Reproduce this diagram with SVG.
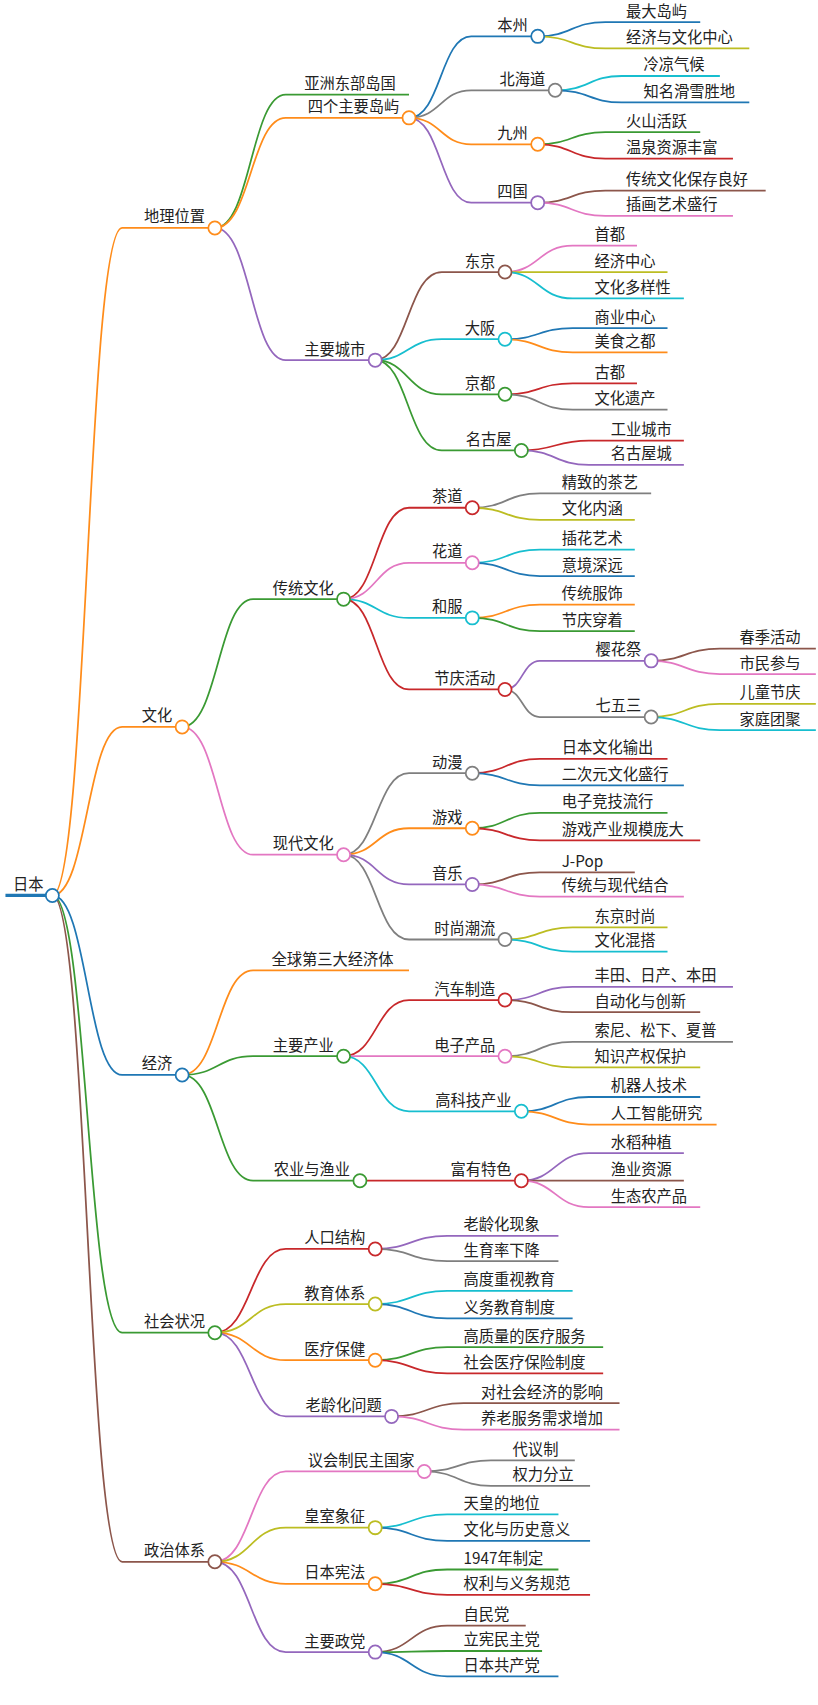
<svg xmlns="http://www.w3.org/2000/svg" width="818" height="1705" viewBox="0 0 818 1705">
<style>
path{fill:none;stroke-width:1.6}
circle{fill:#fff;stroke-width:1.6}
text{font-family:"Noto Sans CJK SC","Noto Sans",sans-serif;font-size:14px;fill:#222}
.e{text-anchor:end}
.o{stroke:#ff8c1a}.g{stroke:#3a9a33}.p{stroke:#9467bd}.b{stroke:#1f77b4}.y{stroke:#7f7f7f}.l{stroke:#bcbd22}.c{stroke:#17becf}.r{stroke:#c8282b}.n{stroke:#8c564b}.k{stroke:#e377c2}
</style>
<rect width="818" height="1705" fill="#fff"/>
<g transform="scale(1.0907,1.1014)">
<g id="connectors">
<path class="b" style="stroke-width:3" d="M5 813H44"/>
<path class="o" d="M48 813C80 813 80 207 112 207H191"/>
<path class="o" d="M48 813C80 813 80 660 112 660H161"/>
<path class="b" d="M48 813C80 813 80 976 112 976H161"/>
<path class="g" d="M48 813C80 813 80 1210 112 1210H191"/>
<path class="n" d="M48 813C80 813 80 1418 112 1418H191"/>
<path class="g" d="M197 207C230 207 230 86 262 86H375"/>
<path class="o" d="M197 207C230 207 230 107 262 107H369"/>
<path class="p" d="M197 207C230 207 230 327 262 327H338"/>
<path class="b" d="M375 107C404 107 404 33 432 33H487"/>
<path class="y" d="M375 107C404 107 404 82 432 82H503"/>
<path class="o" d="M375 107C404 107 404 131 432 131H487"/>
<path class="p" d="M375 107C404 107 404 184 432 184H487"/>
<path class="b" d="M493 33C524 33 524 20 555 20H642"/>
<path class="l" d="M493 33C524 33 524 44 555 44H687"/>
<path class="c" d="M509 82C540 82 540 69 570 69H660"/>
<path class="b" d="M509 82C540 82 540 93 570 93H687"/>
<path class="g" d="M493 131C524 131 524 120 555 120H642"/>
<path class="r" d="M493 131C524 131 524 144 555 144H672"/>
<path class="n" d="M493 184C524 184 524 173 555 173H702"/>
<path class="k" d="M493 184C524 184 524 196 555 196H672"/>
<path class="n" d="M344 327C374 327 374 247 405 247H457"/>
<path class="c" d="M344 327C374 327 374 308 405 308H457"/>
<path class="g" d="M344 327C374 327 374 358 405 358H457"/>
<path class="g" d="M344 327C374 327 374 409 405 409H472"/>
<path class="k" d="M463 247C494 247 494 223 525 223H584"/>
<path class="l" d="M463 247C494 247 494 247 525 247H612"/>
<path class="c" d="M463 247C494 247 494 271 525 271H627"/>
<path class="b" d="M463 308C494 308 494 298 525 298H612"/>
<path class="o" d="M463 308C494 308 494 320 525 320H612"/>
<path class="r" d="M463 358C494 358 494 348 525 348H584"/>
<path class="y" d="M463 358C494 358 494 372 525 372H612"/>
<path class="r" d="M478 409C509 409 509 400 540 400H627"/>
<path class="p" d="M478 409C509 409 509 422 540 422H627"/>
<path class="g" d="M167 660C200 660 200 544 232 544H309"/>
<path class="k" d="M167 660C200 660 200 776 232 776H309"/>
<path class="r" d="M315 544C345 544 345 461 375 461H427"/>
<path class="k" d="M315 544C345 544 345 511 375 511H427"/>
<path class="c" d="M315 544C345 544 345 561 375 561H427"/>
<path class="r" d="M315 544C345 544 345 626 375 626H457"/>
<path class="y" d="M433 461C464 461 464 448 495 448H597"/>
<path class="l" d="M433 461C464 461 464 472 495 472H582"/>
<path class="c" d="M433 511C464 511 464 499 495 499H582"/>
<path class="b" d="M433 511C464 511 464 523 495 523H582"/>
<path class="o" d="M433 561C464 561 464 549 495 549H582"/>
<path class="g" d="M433 561C464 561 464 573 495 573H582"/>
<path class="p" d="M463 626C479 626 479 600 495 600H591"/>
<path class="y" d="M463 626C479 626 479 651 495 651H591"/>
<path class="n" d="M597 600C628 600 628 589 660 589H748"/>
<path class="k" d="M597 600C628 600 628 612 660 612H748"/>
<path class="l" d="M597 651C628 651 628 639 660 639H748"/>
<path class="c" d="M597 651C628 651 628 663 660 663H748"/>
<path class="y" d="M315 776C345 776 345 702 375 702H427"/>
<path class="o" d="M315 776C345 776 345 752 375 752H427"/>
<path class="p" d="M315 776C345 776 345 803 375 803H427"/>
<path class="y" d="M315 776C345 776 345 853 375 853H457"/>
<path class="r" d="M433 702C464 702 464 689 495 689H612"/>
<path class="b" d="M433 702C464 702 464 713 495 713H627"/>
<path class="g" d="M433 752C464 752 464 738 495 738H612"/>
<path class="r" d="M433 752C464 752 464 763 495 763H642"/>
<path class="n" d="M433 803C464 803 464 792 495 792H582"/>
<path class="k" d="M433 803C464 803 464 814 495 814H627"/>
<path class="l" d="M463 853C494 853 494 842 525 842H612"/>
<path class="c" d="M463 853C494 853 494 864 525 864H612"/>
<path class="o" d="M167 976C200 976 200 881 232 881H375"/>
<path class="g" d="M167 976C200 976 200 959 232 959H309"/>
<path class="g" d="M167 976C200 976 200 1072 232 1072H324"/>
<path class="r" d="M315 959C345 959 345 908 375 908H457"/>
<path class="k" d="M315 959C345 959 345 959 375 959H457"/>
<path class="c" d="M315 959C345 959 345 1009 375 1009H472"/>
<path class="r" d="M330 1072H472"/>
<path class="p" d="M463 908C494 908 494 896 525 896H672"/>
<path class="n" d="M463 908C494 908 494 919 525 919H642"/>
<path class="y" d="M463 959C494 959 494 946 525 946H672"/>
<path class="l" d="M463 959C494 959 494 969 525 969H642"/>
<path class="b" d="M478 1009C509 1009 509 996 540 996H642"/>
<path class="o" d="M478 1009C509 1009 509 1021 540 1021H657"/>
<path class="p" d="M478 1072C509 1072 509 1047 540 1047H627"/>
<path class="n" d="M478 1072C509 1072 509 1072 540 1072H627"/>
<path class="k" d="M478 1072C509 1072 509 1096 540 1096H642"/>
<path class="r" d="M197 1210C230 1210 230 1134 262 1134H338"/>
<path class="l" d="M197 1210C230 1210 230 1184 262 1184H338"/>
<path class="o" d="M197 1210C230 1210 230 1235 262 1235H338"/>
<path class="p" d="M197 1210C230 1210 230 1286 262 1286H353"/>
<path class="p" d="M344 1134C377 1134 377 1122 410 1122H512"/>
<path class="y" d="M344 1134C377 1134 377 1145 410 1145H512"/>
<path class="c" d="M344 1184C377 1184 377 1172 410 1172H525"/>
<path class="b" d="M344 1184C377 1184 377 1197 410 1197H525"/>
<path class="g" d="M344 1235C377 1235 377 1223 410 1223H553"/>
<path class="r" d="M344 1235C377 1235 377 1247 410 1247H553"/>
<path class="n" d="M359 1286C392 1286 392 1274 425 1274H568"/>
<path class="k" d="M359 1286C392 1286 392 1298 425 1298H568"/>
<path class="k" d="M197 1418C230 1418 230 1336 262 1336H383"/>
<path class="l" d="M197 1418C230 1418 230 1387 262 1387H338"/>
<path class="o" d="M197 1418C230 1418 230 1438 262 1438H338"/>
<path class="p" d="M197 1418C230 1418 230 1500 262 1500H338"/>
<path class="y" d="M389 1336C420 1336 420 1326 450 1326H527"/>
<path class="y" d="M389 1336C420 1336 420 1349 450 1349H541"/>
<path class="c" d="M344 1387C377 1387 377 1375 410 1375H512"/>
<path class="b" d="M344 1387C377 1387 377 1399 410 1399H541"/>
<path class="g" d="M344 1438C377 1438 377 1425 410 1425H512"/>
<path class="r" d="M344 1438C377 1438 377 1448 410 1448H541"/>
<path class="n" d="M344 1500C377 1500 377 1476 410 1476H482"/>
<path class="g" d="M344 1500C377 1500 377 1499 410 1499H497"/>
<path class="b" d="M344 1500C377 1500 377 1522 410 1522H512"/>
</g>
<g id="root"><text x="12" y="808">日本</text><circle class="b" cx="48" cy="813" r="6"/></g>
<g id="n-dili"><text class="e" x="188" y="202">地理位置</text><circle class="o" cx="197" cy="207" r="6"/></g>
<g id="n-wenhua"><text class="e" x="158" y="655">文化</text><circle class="o" cx="167" cy="660" r="6"/></g>
<g id="n-jingji"><text class="e" x="158" y="971">经济</text><circle class="b" cx="167" cy="976" r="6"/></g>
<g id="n-shehui"><text class="e" x="188" y="1205">社会状况</text><circle class="g" cx="197" cy="1210" r="6"/></g>
<g id="n-zhengzhi"><text class="e" x="188" y="1413">政治体系</text><circle class="n" cx="197" cy="1418" r="6"/></g>
<g id="n-yazhou"><text x="279" y="81">亚洲东部岛国</text></g>
<g id="n-sige"><text class="e" x="366" y="102">四个主要岛屿</text><circle class="o" cx="375" cy="107" r="6"/></g>
<g id="n-chengshi"><text class="e" x="335" y="322">主要城市</text><circle class="p" cx="344" cy="327" r="6"/></g>
<g id="n-benzhou"><text class="e" x="484" y="28">本州</text><circle class="b" cx="493" cy="33" r="6"/></g>
<g id="n-beihaidao"><text class="e" x="500" y="77">北海道</text><circle class="y" cx="509" cy="82" r="6"/></g>
<g id="n-jiuzhou"><text class="e" x="484" y="126">九州</text><circle class="o" cx="493" cy="131" r="6"/></g>
<g id="n-siguo"><text class="e" x="484" y="179">四国</text><circle class="p" cx="493" cy="184" r="6"/></g>
<g id="l1"><text x="574" y="15">最大岛屿</text></g>
<g id="l2"><text x="574" y="39">经济与文化中心</text></g>
<g id="l3"><text x="590" y="64">冷凉气候</text></g>
<g id="l4"><text x="590" y="88">知名滑雪胜地</text></g>
<g id="l5"><text x="574" y="115">火山活跃</text></g>
<g id="l6"><text x="574" y="139">温泉资源丰富</text></g>
<g id="l7"><text x="574" y="168">传统文化保存良好</text></g>
<g id="l8"><text x="574" y="191">插画艺术盛行</text></g>
<g id="n-dongjing"><text class="e" x="454" y="242">东京</text><circle class="n" cx="463" cy="247" r="6"/></g>
<g id="n-daban"><text class="e" x="454" y="303">大阪</text><circle class="c" cx="463" cy="308" r="6"/></g>
<g id="n-jingdu"><text class="e" x="454" y="353">京都</text><circle class="g" cx="463" cy="358" r="6"/></g>
<g id="n-mingguwu"><text class="e" x="469" y="404">名古屋</text><circle class="g" cx="478" cy="409" r="6"/></g>
<g id="l9"><text x="545" y="218">首都</text></g>
<g id="l10"><text x="545" y="242">经济中心</text></g>
<g id="l11"><text x="545" y="266">文化多样性</text></g>
<g id="l12"><text x="545" y="293">商业中心</text></g>
<g id="l13"><text x="545" y="315">美食之都</text></g>
<g id="l14"><text x="545" y="343">古都</text></g>
<g id="l15"><text x="545" y="367">文化遗产</text></g>
<g id="l16"><text x="560" y="395">工业城市</text></g>
<g id="l17"><text x="560" y="417">名古屋城</text></g>
<g id="n-chuantong"><text class="e" x="306" y="539">传统文化</text><circle class="g" cx="315" cy="544" r="6"/></g>
<g id="n-xiandai"><text class="e" x="306" y="771">现代文化</text><circle class="k" cx="315" cy="776" r="6"/></g>
<g id="n-chadao"><text class="e" x="424" y="456">茶道</text><circle class="r" cx="433" cy="461" r="6"/></g>
<g id="n-huadao"><text class="e" x="424" y="506">花道</text><circle class="k" cx="433" cy="511" r="6"/></g>
<g id="n-hefu"><text class="e" x="424" y="556">和服</text><circle class="c" cx="433" cy="561" r="6"/></g>
<g id="n-jieqing"><text class="e" x="454" y="621">节庆活动</text><circle class="r" cx="463" cy="626" r="6"/></g>
<g id="l18"><text x="515" y="443">精致的茶艺</text></g>
<g id="l19"><text x="515" y="467">文化内涵</text></g>
<g id="l20"><text x="515" y="494">插花艺术</text></g>
<g id="l21"><text x="515" y="518">意境深远</text></g>
<g id="l22"><text x="515" y="544">传统服饰</text></g>
<g id="l23"><text x="515" y="568">节庆穿着</text></g>
<g id="n-yinghua"><text class="e" x="588" y="595">樱花祭</text><circle class="p" cx="597" cy="600" r="6"/></g>
<g id="n-qiwusan"><text class="e" x="588" y="646">七五三</text><circle class="y" cx="597" cy="651" r="6"/></g>
<g id="l24"><text x="678" y="584">春季活动</text></g>
<g id="l25"><text x="678" y="607">市民参与</text></g>
<g id="l26"><text x="678" y="634">儿童节庆</text></g>
<g id="l27"><text x="678" y="658">家庭团聚</text></g>
<g id="n-dongman"><text class="e" x="424" y="697">动漫</text><circle class="y" cx="433" cy="702" r="6"/></g>
<g id="n-youxi"><text class="e" x="424" y="747">游戏</text><circle class="o" cx="433" cy="752" r="6"/></g>
<g id="n-yinyue"><text class="e" x="424" y="798">音乐</text><circle class="p" cx="433" cy="803" r="6"/></g>
<g id="n-shishang"><text class="e" x="454" y="848">时尚潮流</text><circle class="y" cx="463" cy="853" r="6"/></g>
<g id="l28"><text x="515" y="684">日本文化输出</text></g>
<g id="l29"><text x="515" y="708">二次元文化盛行</text></g>
<g id="l30"><text x="515" y="733">电子竞技流行</text></g>
<g id="l31"><text x="515" y="758">游戏产业规模庞大</text></g>
<g id="l32"><text x="515" y="787">J-Pop</text></g>
<g id="l33"><text x="515" y="809">传统与现代结合</text></g>
<g id="l34"><text x="545" y="837">东京时尚</text></g>
<g id="l35"><text x="545" y="859">文化混搭</text></g>
<g id="n-quanqiu"><text x="249" y="876">全球第三大经济体</text></g>
<g id="n-chanye"><text class="e" x="306" y="954">主要产业</text><circle class="g" cx="315" cy="959" r="6"/></g>
<g id="n-nongye"><text class="e" x="321" y="1067">农业与渔业</text><circle class="g" cx="330" cy="1072" r="6"/></g>
<g id="n-qiche"><text class="e" x="454" y="903">汽车制造</text><circle class="r" cx="463" cy="908" r="6"/></g>
<g id="n-dianzi"><text class="e" x="454" y="954">电子产品</text><circle class="k" cx="463" cy="959" r="6"/></g>
<g id="n-gaokeji"><text class="e" x="469" y="1004">高科技产业</text><circle class="c" cx="478" cy="1009" r="6"/></g>
<g id="n-tese"><text class="e" x="469" y="1067">富有特色</text><circle class="r" cx="478" cy="1072" r="6"/></g>
<g id="l36"><text x="545" y="891">丰田、日产、本田</text></g>
<g id="l37"><text x="545" y="914">自动化与创新</text></g>
<g id="l38"><text x="545" y="941">索尼、松下、夏普</text></g>
<g id="l39"><text x="545" y="964">知识产权保护</text></g>
<g id="l40"><text x="560" y="991">机器人技术</text></g>
<g id="l41"><text x="560" y="1016">人工智能研究</text></g>
<g id="l42"><text x="560" y="1042">水稻种植</text></g>
<g id="l43"><text x="560" y="1067">渔业资源</text></g>
<g id="l44"><text x="560" y="1091">生态农产品</text></g>
<g id="n-renkou"><text class="e" x="335" y="1129">人口结构</text><circle class="r" cx="344" cy="1134" r="6"/></g>
<g id="n-jiaoyu"><text class="e" x="335" y="1179">教育体系</text><circle class="l" cx="344" cy="1184" r="6"/></g>
<g id="n-yiliao"><text class="e" x="335" y="1230">医疗保健</text><circle class="o" cx="344" cy="1235" r="6"/></g>
<g id="n-laoling"><text class="e" x="350" y="1281">老龄化问题</text><circle class="p" cx="359" cy="1286" r="6"/></g>
<g id="l45"><text x="425" y="1117">老龄化现象</text></g>
<g id="l46"><text x="425" y="1140">生育率下降</text></g>
<g id="l47"><text x="425" y="1167">高度重视教育</text></g>
<g id="l48"><text x="425" y="1192">义务教育制度</text></g>
<g id="l49"><text x="425" y="1218">高质量的医疗服务</text></g>
<g id="l50"><text x="425" y="1242">社会医疗保险制度</text></g>
<g id="l51"><text x="441" y="1269">对社会经济的影响</text></g>
<g id="l52"><text x="441" y="1293">养老服务需求增加</text></g>
<g id="n-yihui"><text class="e" x="380" y="1331">议会制民主国家</text><circle class="k" cx="389" cy="1336" r="6"/></g>
<g id="n-huangshi"><text class="e" x="335" y="1382">皇室象征</text><circle class="l" cx="344" cy="1387" r="6"/></g>
<g id="n-xianfa"><text class="e" x="335" y="1433">日本宪法</text><circle class="o" cx="344" cy="1438" r="6"/></g>
<g id="n-zhengdang"><text class="e" x="335" y="1495">主要政党</text><circle class="p" cx="344" cy="1500" r="6"/></g>
<g id="l53"><text x="470" y="1321">代议制</text></g>
<g id="l54"><text x="470" y="1344">权力分立</text></g>
<g id="l55"><text x="425" y="1370">天皇的地位</text></g>
<g id="l56"><text x="425" y="1394">文化与历史意义</text></g>
<g id="l57"><text x="425" y="1420">1947年制定</text></g>
<g id="l58"><text x="425" y="1443">权利与义务规范</text></g>
<g id="l59"><text x="425" y="1471">自民党</text></g>
<g id="l60"><text x="425" y="1494">立宪民主党</text></g>
<g id="l61"><text x="425" y="1517">日本共产党</text></g>
</g>
</svg>
